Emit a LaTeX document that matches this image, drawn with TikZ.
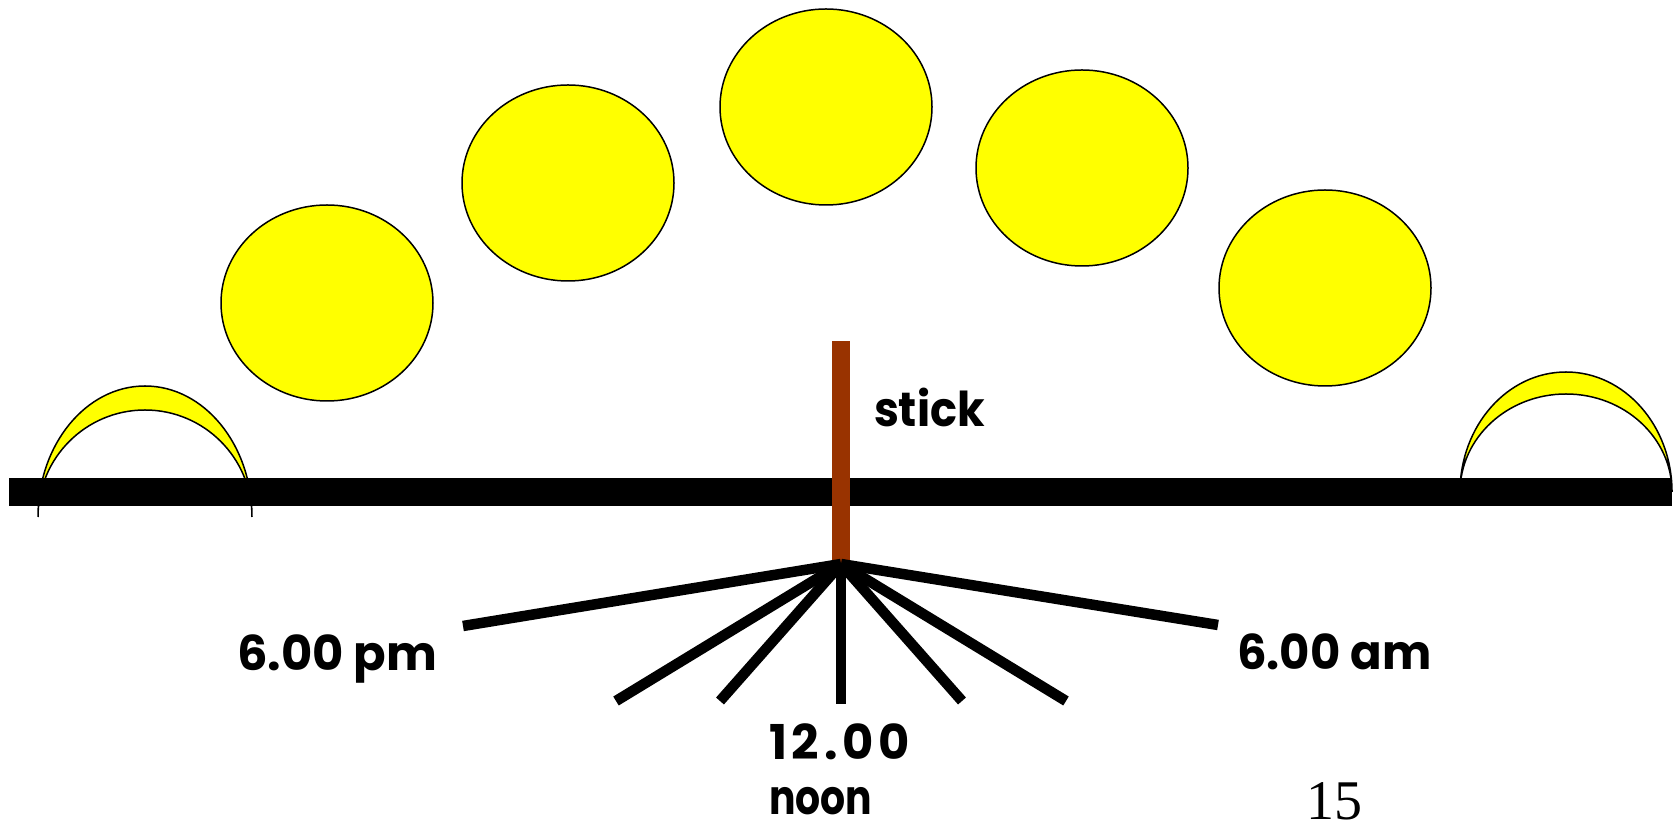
\documentclass[tikz,border=0pt]{standalone}
\usepackage{fontspec}
\usepackage{graphicx}
\setmainfont{Liberation Serif}
\newfontfamily\labelfont{Poppins}
\usetikzlibrary{shapes.geometric}
\definecolor{sunyellow}{HTML}{FFFF00}
\definecolor{stickbrown}{HTML}{993300}
\tikzset{
  sunshape/.style={ellipse, draw=black, line width=1.5pt, fill=sunyellow,
    minimum width=212pt, minimum height=196pt, inner sep=0pt},
  crescent/.style={draw=black, line width=1.5pt, fill=sunyellow},
  groundbar/.style={rectangle, fill=black, inner sep=0pt, outer sep=0pt,
    minimum width=1663pt, minimum height=28pt},
  stickbar/.style={rectangle, fill=stickbrown, inner sep=0pt, outer sep=0pt,
    minimum width=18pt, minimum height=223pt},
  shadowline/.style={line width=10.5pt, black, line cap=butt},
  timelabel/.style={inner sep=0pt, outer sep=0pt, anchor=base west,
    font=\labelfont\bfseries\fontsize{48pt}{56pt}\selectfont},
  pagenum/.style={inner sep=0pt, anchor=base west,
    font=\fontsize{56pt}{60pt}\selectfont}
}
\begin{document}
\begin{tikzpicture}[x=1pt,y=1pt]
\useasboundingbox (0,0) rectangle (1675,821);

% the sun along its path across the sky
\node[sunshape] (sun1) at (327,518) {};
\node[sunshape] (sun2) at (568,638) {};
\node[sunshape] (sun3) at (826,714) {};
\node[sunshape] (sun4) at (1082,653) {};
\node[sunshape] (sun5) at (1325,533) {};

% rising and setting suns on the horizon
\path[crescent] (38,304) arc[start angle=180, end angle=0, x radius=107, y radius=131]
  arc[start angle=0, end angle=180, x radius=107, y radius=107] -- cycle;
\path[crescent] (1460,329) arc[start angle=180, end angle=0, x radius=106, y radius=120]
  arc[start angle=0, end angle=180, x radius=106, y radius=98] -- cycle;

% ground and stick
\node[groundbar] (ground) at (840.5,329) {};
\node[stickbar] (stick) at (841,368.5) {};

% shadow ends
\coordinate (pm)    at (463,195);
\coordinate (s1)    at (616,120);
\coordinate (s2)    at (720,120);
\coordinate (noon)  at (841,117);
\coordinate (s4)    at (962,120);
\coordinate (s5)    at (1066,120);
\coordinate (am)    at (1218,196);

\foreach \e in {pm,s1,s2,noon,s4,s5,am}
  \draw[shadowline] (stick.south) -- (\e);

% labels
\node[timelabel] (sticklbl) at (874,394) {\scalebox{0.93}[1]{stick}};
\node[timelabel] (pmlbl) at (237,150) {6.00 pm};
\node[timelabel] (amlbl) at (1237,151) {\scalebox{0.97}[1]{6.00 am}};
\node[timelabel] (noonlbl) at (769,61) {\addfontfeature{LetterSpace=10}12.00};
\node[timelabel] (noonword) at (769,6) {\scalebox{0.82}[1]{noon}};
\node[pagenum] (page) at (1306,1) {15};
\end{tikzpicture}
\end{document}
